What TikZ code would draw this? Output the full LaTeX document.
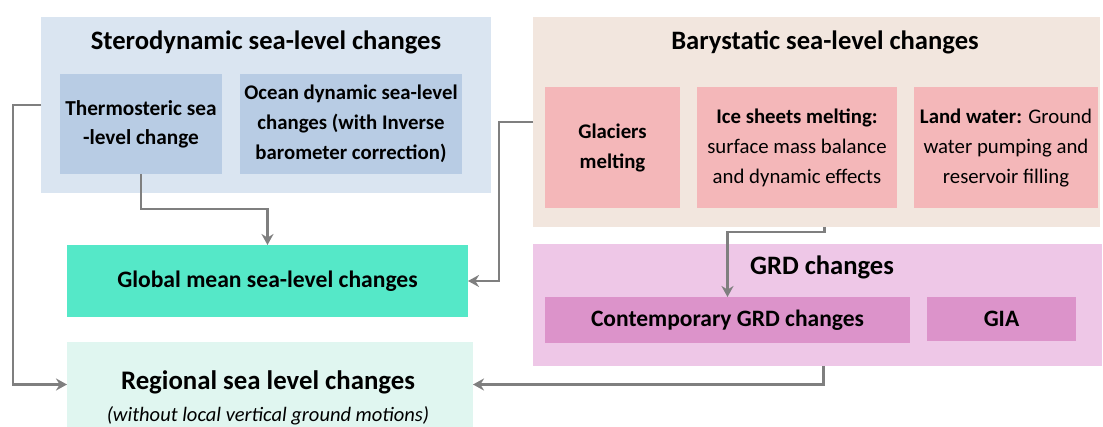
\documentclass[tikz,border=0pt]{standalone}
\usepackage{fontspec}
\setmainfont{Carlito}
\usetikzlibrary{arrows.meta}
\definecolor{steroBg}{HTML}{DAE5F1}
\definecolor{steroIn}{HTML}{B8CCE4}
\definecolor{baryBg}{HTML}{F2E6DE}
\definecolor{baryIn}{HTML}{F4B7B9}
\definecolor{grdBg}{HTML}{EEC7E7}
\definecolor{grdIn}{HTML}{DC93CA}
\definecolor{globalC}{HTML}{55E8C8}
\definecolor{regionalC}{HTML}{E0F6F0}
\definecolor{arrC}{HTML}{7F7F7F}
\tikzset{
  box/.style={rectangle, inner sep=0pt, outer sep=0pt, draw=none, align=center},
  ttl/.style={inner sep=0pt, font=\fontsize{26.6}{30}\selectfont\bfseries},
  inner/.style={box, font=\fontsize{20.8}{30}\selectfont},
  arr/.style={draw=arrC, line width=2.3pt, -{Stealth[length=11pt,width=12pt]}},
}
\begin{document}
\begin{tikzpicture}[x=1pt,y=-1pt]
\useasboundingbox (0,0) rectangle (1103,427);
% group backgrounds
\node[box, fill=steroBg, minimum width=450, minimum height=176] (stero) at (266,105) {};
\node[ttl] (steroT) at (266,42) {Sterodynamic sea-level changes};
\node[inner, fill=steroIn, minimum width=162, minimum height=100, font=\fontsize{21.3}{29}\selectfont\bfseries] (thermo) at (141,124) {Thermosteric sea\\-level change};
\node[inner, fill=steroIn, minimum width=222, minimum height=100, font=\fontsize{20.8}{30}\selectfont\bfseries] (ocean) at (351,124) {Ocean dynamic sea-level\\changes (with Inverse\\barometer correction)};

\node[box, fill=baryBg, minimum width=567, minimum height=210] (bary) at (816.5,122) {};
\node[ttl] (baryT) at (825,42) {Barystatic sea-level changes};
\node[inner, fill=baryIn, minimum width=135, minimum height=121, font=\fontsize{20.8}{30}\selectfont\bfseries] (glac) at (612.5,147.5) {Glaciers\\melting};
\node[inner, fill=baryIn, minimum width=200, minimum height=121] (ice) at (797,147.5) {\textbf{Ice sheets melting:}\\surface mass balance\\and dynamic effects};
\node[inner, fill=baryIn, minimum width=184, minimum height=121] (land) at (1006,147.5) {\textbf{Land water:} Ground\\water pumping and\\reservoir filling};

\node[box, fill=grdBg, minimum width=569, minimum height=122] (grd) at (817.5,305) {};
\node[ttl] (grdT) at (822,267) {GRD changes};
\node[inner, fill=grdIn, minimum width=365, minimum height=46, font=\fontsize{23.5}{26}\selectfont\bfseries] (contemp) at (727.5,320) {Contemporary GRD changes};
\node[inner, fill=grdIn, minimum width=149, minimum height=44, font=\fontsize{23.5}{26}\selectfont\bfseries] (gia) at (1001.5,319) {GIA};

\node[box, fill=globalC, minimum width=401, minimum height=72, font=\fontsize{23.6}{26}\selectfont\bfseries] (global) at (267.5,281) {Global mean sea-level changes};
\node[box, fill=regionalC, minimum width=406, minimum height=85] (regional) at (270,384.5) {};
\node[inner sep=0pt, font=\fontsize{26.8}{30}\selectfont\bfseries] (regT) at (268,382) {Regional sea level changes};
\node[inner sep=0pt, font=\fontsize{20.5}{24}\selectfont\itshape] (regS) at (268,416) {(without local vertical ground motions)};

% connectors
\draw[arr] (stero.west) -- ++(-28,0) |- (regional.west);
\draw[arr] (thermo.south) -- ++(0,35) -| (global.north);
\draw[arr] (bary.west) -- ++(-34,0) |- (global.east);
\draw[arr] ([xshift=8pt]bary.south) -- ++(0,5) -| (contemp.north);
\draw[arr] ([xshift=6pt]grd.south) |- (regional.east);
\end{tikzpicture}
\end{document}
